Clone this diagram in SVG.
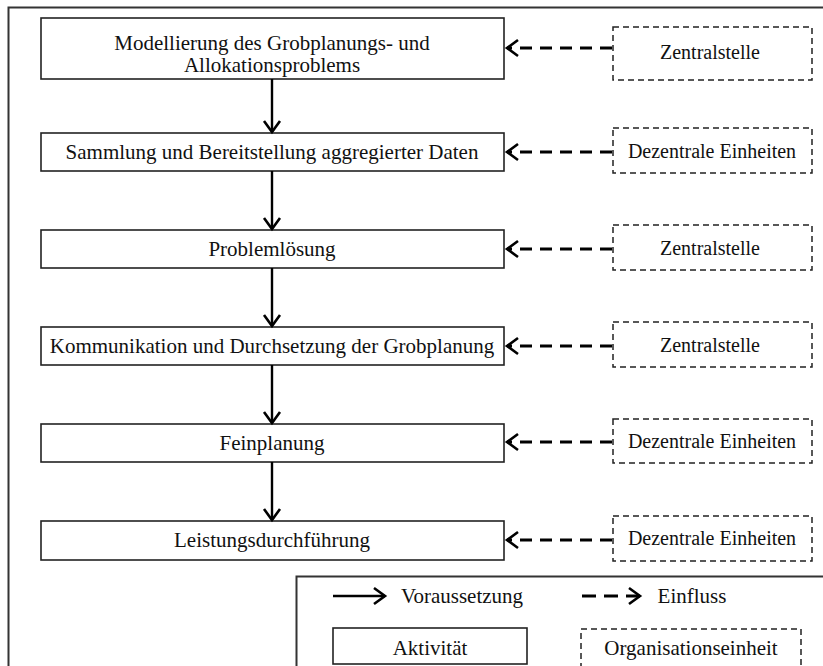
<svg xmlns="http://www.w3.org/2000/svg" width="823" height="666" viewBox="0 0 823 666">
  <style>
    text { font-family: "Liberation Serif", "Times New Roman", serif; font-size: 21px; fill: #111; text-anchor: middle; }
    .unit { font-size: 20px; }
    .frame { fill: none; stroke: #333; stroke-width: 2; }
    .act { fill: #fff; stroke: #222; stroke-width: 1.6; }
    .org { fill: #fff; stroke: #222; stroke-width: 1.5; stroke-dasharray: 6 4; }
    .req { fill: none; stroke: #000; stroke-width: 2.4; }
    .inf { fill: none; stroke: #000; stroke-width: 3; stroke-dasharray: 12 8; }
  </style>
  <defs>
    <marker id="head" markerUnits="userSpaceOnUse" markerWidth="16" markerHeight="20" viewBox="0 0 16 20" refX="13" refY="10" orient="auto">
      <path d="M2,2 L13,10 L2,18" fill="none" stroke="#000" stroke-width="2.6" stroke-linejoin="miter"/>
    </marker>
  </defs>

  <rect width="823" height="666" fill="#fff"/>

  <!-- outer frame, continues past the canvas edge -->
  <rect class="frame" x="8.5" y="7.5" width="840" height="700"/>

  <!-- activities -->
  <g id="act-modellierung">
    <rect class="act" x="41" y="18" width="463" height="61"/>
    <text x="272" y="50">Modellierung des Grobplanungs- und</text>
    <text x="272" y="72">Allokationsproblems</text>
  </g>
  <g id="act-sammlung">
    <rect class="act" x="41" y="133" width="463" height="38"/>
    <text x="272" y="159">Sammlung und Bereitstellung aggregierter Daten</text>
  </g>
  <g id="act-problemloesung">
    <rect class="act" x="41" y="230" width="463" height="38"/>
    <text x="272" y="256">Problemlösung</text>
  </g>
  <g id="act-kommunikation">
    <rect class="act" x="41" y="327" width="463" height="38"/>
    <text x="272" y="353">Kommunikation und Durchsetzung der Grobplanung</text>
  </g>
  <g id="act-feinplanung">
    <rect class="act" x="41" y="424" width="463" height="38"/>
    <text x="272" y="450">Feinplanung</text>
  </g>
  <g id="act-leistung">
    <rect class="act" x="41" y="521" width="463" height="39"/>
    <text x="272" y="547">Leistungsdurchführung</text>
  </g>

  <!-- organisational units -->
  <g id="org-1">
    <rect class="org" x="613" y="27" width="199" height="53"/>
    <text class="unit" x="710" y="59">Zentralstelle</text>
  </g>
  <g id="org-2">
    <rect class="org" x="613" y="128" width="199" height="45"/>
    <text class="unit" x="712" y="158">Dezentrale Einheiten</text>
  </g>
  <g id="org-3">
    <rect class="org" x="613" y="225" width="199" height="45"/>
    <text class="unit" x="710" y="255">Zentralstelle</text>
  </g>
  <g id="org-4">
    <rect class="org" x="613" y="322" width="199" height="45"/>
    <text class="unit" x="710" y="352">Zentralstelle</text>
  </g>
  <g id="org-5">
    <rect class="org" x="613" y="419" width="199" height="44"/>
    <text class="unit" x="712" y="448">Dezentrale Einheiten</text>
  </g>
  <g id="org-6">
    <rect class="org" x="613" y="516" width="199" height="45"/>
    <text class="unit" x="712" y="545">Dezentrale Einheiten</text>
  </g>

  <!-- connectors -->
  <g id="connectors">
    <path class="req" d="M272,79 V132" marker-end="url(#head)"/>
    <path class="req" d="M272,171 V229" marker-end="url(#head)"/>
    <path class="req" d="M272,268 V326" marker-end="url(#head)"/>
    <path class="req" d="M272,365 V423" marker-end="url(#head)"/>
    <path class="req" d="M272,462 V520" marker-end="url(#head)"/>

    <path class="inf" d="M612,48 H507" marker-end="url(#head)"/>
    <path class="inf" d="M612,152 H507" marker-end="url(#head)"/>
    <path class="inf" d="M612,249 H507" marker-end="url(#head)"/>
    <path class="inf" d="M612,346 H507" marker-end="url(#head)"/>
    <path class="inf" d="M612,442 H507" marker-end="url(#head)"/>
    <path class="inf" d="M612,540 H507" marker-end="url(#head)"/>
  </g>

  <!-- legend -->
  <g id="legend">
    <rect class="frame" x="296.5" y="576.5" width="600" height="200"/>
    <path class="req" d="M333,596 H385" marker-end="url(#head)"/>
    <text x="462" y="603">Voraussetzung</text>
    <path class="inf" d="M582,596 H640" style="stroke-dasharray: 14 8" marker-end="url(#head)"/>
    <text x="692" y="603">Einfluss</text>
    <rect class="act" x="333" y="628" width="194" height="36"/>
    <text x="430" y="655">Aktivität</text>
    <rect class="org" x="581" y="629" width="220" height="40"/>
    <text x="691" y="655">Organisationseinheit</text>
  </g>
</svg>
